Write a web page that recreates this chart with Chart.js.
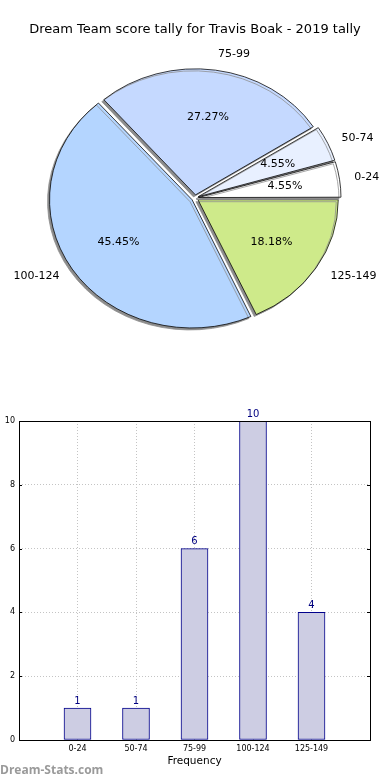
<!DOCTYPE html>
<html>
<head>
<meta charset="utf-8">
<script src="https://cdn.jsdelivr.net/npm/chart.js@4"></script>
<style>
  body { margin: 0; background: #fff; }
  canvas { display: block; }
</style>
</head>
<body>
<canvas id="pieChart" width="390" height="390"></canvas>
<canvas id="barChart" width="390" height="390"></canvas>
<script>
const CATEGORIES = ['0-24', '50-74', '75-99', '100-124', '125-149'];
const COUNTS = [1, 1, 6, 10, 4];
const PIE_COLORS = ['#ffffff', '#e8f0ff', '#c5d9ff', '#b4d5ff', '#ceea8a'];
const Y_TICKS = [0, 2, 4, 6, 8, 10];
const TITLE = 'Dream Team score tally for Travis Boak - 2019 tally';

const FONT = "'DejaVu Sans', sans-serif";
const SQUASH = 0.9; // matplotlib pie isn't drawn with equal axes
const EXPLODE = 7;  // px each wedge is pushed out

const total = COUNTS.reduce((a, b) => a + b, 0);

// matplotlib goes counter-clockwise from 3 o'clock, Chart.js clockwise -> reverse
const pieLabels = CATEGORIES.slice().reverse();
const pieData = COUNTS.slice().reverse();
const pieColors = PIE_COLORS.slice().reverse();

const ellipsePlugin = {
  id: 'ellipse',
  beforeDatasetsDraw(chart) {
    const ctx = chart.ctx;
    const a = chart.chartArea;
    const cx = (a.left + a.right) / 2, cy = (a.top + a.bottom) / 2;
    ctx.save();
    ctx.translate(cx, cy);
    ctx.scale(1, SQUASH);
    ctx.translate(-cx, -cy);
    ctx.shadowColor = '#8c8c8c';
    ctx.shadowOffsetX = -2;
    ctx.shadowOffsetY = 2;
  },
  afterDatasetsDraw(chart) {
    const ctx = chart.ctx;
    ctx.restore();
    const a = chart.chartArea;
    const cx = (a.left + a.right) / 2, cy = (a.top + a.bottom) / 2;
    const meta = chart.getDatasetMeta(0);
    ctx.save();
    ctx.fillStyle = '#000';
    ctx.font = '11px ' + FONT;
    ctx.textBaseline = 'middle';
    meta.data.forEach((arc, i) => {
      const p = arc.getProps(['startAngle', 'endAngle', 'outerRadius']);
      const mid = (p.startAngle + p.endAngle) / 2;
      const cos = Math.cos(mid), sin = Math.sin(mid);
      // outer label
      const rl = p.outerRadius * 1.1 + EXPLODE;
      ctx.textAlign = cos > 0 ? 'left' : 'right';
      ctx.fillText(pieLabels[i], cx + cos * rl, cy + sin * rl * SQUASH);
      // percentage
      const rp = p.outerRadius * 0.6 + EXPLODE;
      ctx.textAlign = 'center';
      const pct = (pieData[i] / total * 100).toFixed(2) + '%';
      ctx.fillText(pct, cx + cos * rp, cy + sin * rp * SQUASH);
    });
    ctx.font = '13px ' + FONT;
    ctx.textAlign = 'center';
    ctx.fillText(TITLE, 195, 30);
    ctx.restore();
  }
};

new Chart(document.getElementById('pieChart'), {
  type: 'pie',
  data: {
    labels: pieLabels,
    datasets: [{
      data: pieData,
      backgroundColor: pieColors,
      borderColor: '#000',
      borderWidth: 0.8,
      offset: EXPLODE * 2, // arc element halves the offset
      hoverOffset: 0
    }]
  },
  options: {
    responsive: false,
    animation: false,
    rotation: 90,
    radius: 140,
    layout: { padding: { top: 6 } },
    plugins: { legend: { display: false }, tooltip: { enabled: false } }
  },
  plugins: [ellipsePlugin]
});

// bar chart: pad an empty slot each side like the original axes
const barLabels = [''].concat(CATEGORIES, ['']);
const barData = [null].concat(COUNTS, [null]);

const barExtras = {
  id: 'barExtras',
  afterDatasetsDraw(chart) {
    const ctx = chart.ctx;
    const a = chart.chartArea;
    ctx.save();
    ctx.strokeStyle = '#000';
    ctx.lineWidth = 1;
    ctx.strokeRect(Math.round(a.left) + 0.5, Math.round(a.top) + 0.5,
      Math.round(a.right - a.left), Math.round(a.bottom - a.top));
    // small inward tick marks on both sides
    chart.scales.y.ticks.forEach(t => {
      const y = Math.round(chart.scales.y.getPixelForValue(t.value)) + 0.5;
      ctx.beginPath();
      ctx.moveTo(a.left, y); ctx.lineTo(a.left + 3, y);
      ctx.moveTo(a.right, y); ctx.lineTo(a.right - 3, y);
      ctx.stroke();
    });
    ctx.fillStyle = '#000080';
    ctx.font = '10px ' + FONT;
    ctx.textAlign = 'center';
    ctx.textBaseline = 'bottom';
    chart.getDatasetMeta(0).data.forEach((bar, i) => {
      if (barData[i] == null) return;
      ctx.fillText(String(barData[i]), bar.x, bar.y - 2);
    });
    ctx.fillStyle = '#000';
    ctx.font = '10.5px ' + FONT;
    ctx.textBaseline = 'middle';
    ctx.fillText('Frequency', (a.left + a.right) / 2, 371);
    ctx.fillStyle = '#9a9a9a';
    ctx.font = "bold 12px 'Open Sans', sans-serif";
    ctx.textAlign = 'left';
    ctx.fillText('Dream-Stats.com', 0, 381);
    ctx.restore();
  }
};

const gridOpts = { color: '#c4c4c4', drawTicks: false, offset: false };

new Chart(document.getElementById('barChart'), {
  type: 'bar',
  data: {
    labels: barLabels,
    datasets: [{
      data: barData,
      backgroundColor: '#cdcde3',
      borderColor: '#00008b',
      borderWidth: 1,
      borderSkipped: false,
      barThickness: 27
    }]
  },
  options: {
    responsive: false,
    animation: false,
    layout: { padding: { top: 31, right: 20, left: 0, bottom: 0 } },
    plugins: { legend: { display: false }, tooltip: { enabled: false } },
    scales: {
      x: {
        offset: false,
        border: { display: false, dash: [1, 2] },
        grid: gridOpts,
        ticks: { color: '#000', font: { family: FONT, size: 8 }, padding: 4, autoSkip: false, maxRotation: 0 },
        afterFit(scale) { scale.height = 40; }
      },
      y: {
        min: 0,
        max: 10,
        border: { display: false, dash: [1, 2] },
        grid: gridOpts,
        afterBuildTicks(scale) { scale.ticks = Y_TICKS.map(v => ({ value: v })); },
        ticks: { color: '#000', font: { family: FONT, size: 8 }, padding: 4 },
        afterFit(scale) { scale.width = 19; }
      }
    }
  },
  plugins: [barExtras]
});
</script>
</body>
</html>
